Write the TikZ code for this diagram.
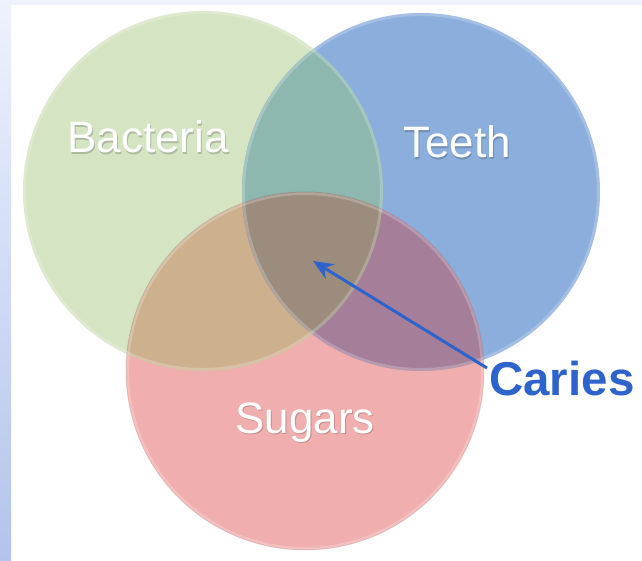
\documentclass[tikz,border=0pt]{standalone}
\usepackage{fontspec}
\setmainfont{Liberation Sans}
\usetikzlibrary{arrows.meta,calc}
\definecolor{bgA}{HTML}{EEF2FC}
\definecolor{bgB}{HTML}{B3C3EC}
\definecolor{cGreen}{HTML}{D5E4C3}
\definecolor{cBlue}{HTML}{8BAEDC}
\definecolor{cPink}{HTML}{F0AEAE}
\definecolor{cTeal}{HTML}{8DB7AF}
\definecolor{cTan}{HTML}{CDB18F}
\definecolor{cPurple}{HTML}{A57E9A}
\definecolor{cCenter}{HTML}{9B8C7E}
\definecolor{cCaries}{HTML}{2F63CC}
\newcommand{\glowlabel}[2]{\makebox[0pt][l]{\hspace{1pt}\raisebox{-1.2pt}{\color{#1}#2}}#2}
\tikzset{
  lbl/.style={text=white, font=\fontsize{44}{50}\selectfont, inner sep=0pt, anchor=base},
  rim/.style={draw=white, line width=3pt, draw opacity=0.22},
  pointer/.style={draw=cCaries, line width=3pt, -{Stealth[length=20pt,width=17pt]}}
}
\begin{document}
\begin{tikzpicture}[x=1pt,y=-1pt]
\useasboundingbox (0,0) rectangle (642,561);
% background
\fill[white] (0,0) rectangle (642,561);
\fill[bgA] (0,0) rectangle (642,5);
\shade[top color=bgA, bottom color=bgB] (0,0) rectangle (11,561);
% centres
\coordinate (cB) at (203,191);
\coordinate (cT) at (421,192);
\coordinate (cS) at (305,371);
% base circles
\fill[cGreen] (cB) circle[radius=180pt];
\fill[cBlue] (cT) circle[radius=179pt];
\fill[cPink] (cS) circle[radius=179pt];
% pairwise overlaps
\begin{scope}
  \clip (cB) circle[radius=180pt];
  \fill[cTeal] (cT) circle[radius=179pt];
  \fill[cTan] (cS) circle[radius=179pt];
\end{scope}
\begin{scope}
  \clip (cT) circle[radius=179pt];
  \fill[cPurple] (cS) circle[radius=179pt];
\end{scope}
\begin{scope}
  \clip (cB) circle[radius=180pt];
  \clip (cT) circle[radius=179pt];
  \fill[cCenter] (cS) circle[radius=179pt];
\end{scope}
% soft rims
\draw[rim] (cB) circle[radius=178.5pt];
\draw[rim] (cT) circle[radius=177.5pt];
\draw[rim] (cS) circle[radius=177.5pt];
\draw[black, opacity=0.08, line width=1pt] (cS) circle[radius=179pt];
% labels
\node[lbl] (bac) at (148,153) {\glowlabel{cGreen!82!black}{Bacteria}};
\node[lbl] (tee) at (457,158) {\glowlabel{cBlue!82!black}{Teeth}};
\node[lbl] (sug) at (305,433) {\glowlabel{cPink!82!black}{Sugars}};
\node[text=cCaries, font=\bfseries\fontsize{47.5}{52}\selectfont, inner sep=0pt, anchor=base west] (caries) at (489,395) {Caries};
\coordinate (tip) at (313,261);
\draw[pointer] ($(caries.west)+(-2,-10)$) -- (tip);
\end{tikzpicture}
\end{document}
